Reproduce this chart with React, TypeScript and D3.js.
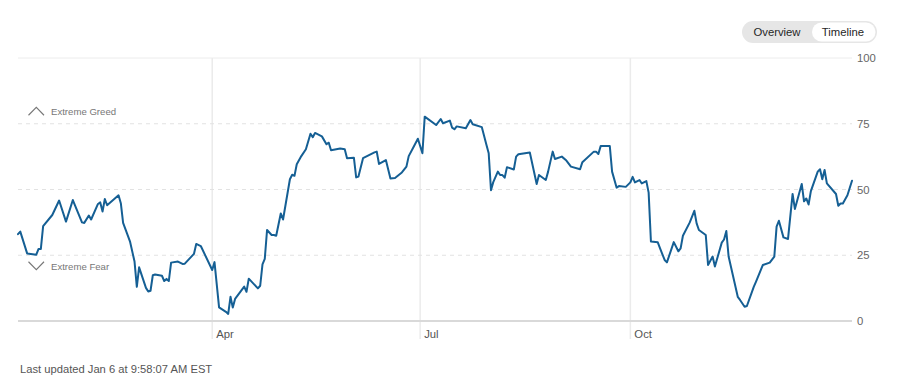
import React from "react";
import * as d3 from "d3";

const dates: string[] = [
  "2022-01-06","2022-01-07","2022-01-10","2022-01-14","2022-01-15","2022-01-16","2022-01-17","2022-01-21","2022-01-24","2022-01-27",
  "2022-01-30","2022-02-03","2022-02-04","2022-02-06","2022-02-07","2022-02-10","2022-02-11","2022-02-12","2022-02-13","2022-02-14",
  "2022-02-19","2022-02-20","2022-02-21","2022-02-24","2022-02-26","2022-02-27","2022-02-28","2022-03-03","2022-03-04","2022-03-05",
  "2022-03-06","2022-03-07","2022-03-10","2022-03-11","2022-03-12","2022-03-13","2022-03-14","2022-03-17","2022-03-19","2022-03-20",
  "2022-03-24","2022-03-25","2022-03-27","2022-04-01","2022-04-02","2022-04-04","2022-04-07","2022-04-08","2022-04-09","2022-04-10",
  "2022-04-11","2022-04-15","2022-04-16","2022-04-17","2022-04-21","2022-04-22","2022-04-23","2022-04-24","2022-04-25","2022-04-27",
  "2022-04-28","2022-04-29","2022-05-01","2022-05-02","2022-05-05","2022-05-06","2022-05-07","2022-05-08","2022-05-10","2022-05-12",
  "2022-05-14","2022-05-15","2022-05-16","2022-05-19","2022-05-21","2022-05-22","2022-05-23","2022-05-27","2022-05-29","2022-05-30",
  "2022-06-02","2022-06-03","2022-06-04","2022-06-06","2022-06-11","2022-06-12","2022-06-13","2022-06-16","2022-06-18","2022-06-20",
  "2022-06-23","2022-06-25","2022-06-26","2022-06-28","2022-06-30","2022-07-02","2022-07-03","2022-07-08","2022-07-10","2022-07-11",
  "2022-07-14","2022-07-15","2022-07-16","2022-07-17","2022-07-21","2022-07-23","2022-07-24","2022-07-28","2022-07-30","2022-07-31",
  "2022-08-01","2022-08-02","2022-08-04","2022-08-05","2022-08-06","2022-08-07","2022-08-08","2022-08-11","2022-08-12","2022-08-13",
  "2022-08-18","2022-08-21","2022-08-22","2022-08-25","2022-08-26","2022-08-28","2022-08-29","2022-09-01","2022-09-03","2022-09-05",
  "2022-09-09","2022-09-10","2022-09-15","2022-09-16","2022-09-17","2022-09-18","2022-09-22","2022-09-23","2022-09-25","2022-09-26",
  "2022-09-29","2022-10-01","2022-10-02","2022-10-03","2022-10-05","2022-10-06","2022-10-08","2022-10-09","2022-10-10","2022-10-13",
  "2022-10-14","2022-10-16","2022-10-17","2022-10-20","2022-10-22","2022-10-23","2022-10-24","2022-10-27","2022-10-29","2022-10-30",
  "2022-10-31","2022-11-03","2022-11-04","2022-11-06","2022-11-07","2022-11-10","2022-11-11","2022-11-12","2022-11-13","2022-11-17",
  "2022-11-18","2022-11-20","2022-11-21","2022-11-24","2022-11-25","2022-11-28","2022-12-01","2022-12-03","2022-12-04","2022-12-05",
  "2022-12-07","2022-12-09","2022-12-11","2022-12-12","2022-12-15","2022-12-16","2022-12-17","2022-12-18","2022-12-19","2022-12-22",
  "2022-12-23","2022-12-24","2022-12-25","2022-12-26","2022-12-30","2022-12-31","2023-01-01","2023-01-02","2023-01-04","2023-01-06",
];

const values: number[] = [
  33, 34, 25.7, 25.2, 27.4, 27.4, 36.1, 40.3, 45.8, 37.8,
  46.0, 37.5, 37.3, 40.1, 38.6, 44.5, 45.1, 41.6, 46.4, 44.0,
  47.8, 44.8, 37.3, 30.3, 22.6, 13.0, 20.4, 12.6, 11.2, 11.5,
  17.4, 17.7, 17.2, 15.2, 16.0, 15.2, 22.2, 22.6, 21.7, 21.8,
  25.5, 29.3, 28.5, 19.4, 22.4, 5.2, 3.5, 2.7, 9.2, 5.1,
  8.4, 13.1, 11.1, 16.1, 12.4, 13.4, 21.5, 23.6, 34.6, 32.7,
  32.7, 32.4, 40.9, 38.6, 53.9, 55.6, 55.2, 59.6, 62.7, 65.3,
  71.2, 69.9, 71.5, 70.2, 67.2, 67.8, 64.9, 65.6, 65.3, 61.9,
  62.1, 54.6, 54.9, 61.9, 64.1, 64.4, 59.7, 61.2, 54.2, 54.4,
  56.5, 58.7, 62.7, 66.0, 69.3, 63.8, 77.7, 74.5, 76.8, 75.2,
  76.2, 73.5, 72.9, 74.0, 73.3, 76.4, 74.8, 73.7, 67.0, 63.8,
  49.7, 52.8, 56.8, 55.5, 55.5, 54.5, 58.5, 57.6, 62.5, 63.4,
  64.1, 52.1, 55.5, 53.6, 56.8, 64.4, 61.6, 62.5, 61.0, 58.7,
  57.7, 60.4, 64.4, 64.4, 63.5, 66.5, 66.5, 56.8, 50.7, 51.3,
  51.0, 52.7, 54.8, 52.7, 53.6, 52.3, 53.2, 48.8, 30.2, 29.9,
  27.6, 23.2, 22.3, 30.0, 26.5, 27.6, 32.4, 37.5, 41.9, 37.1,
  34.6, 32.7, 21.3, 24.5, 20.7, 29.8, 31.0, 34.2, 24.5, 9.2,
  8.0, 5.4, 5.7, 13.0, 15.0, 21.3, 22.2, 24.5, 35.9, 38.1,
  31.8, 31.2, 48.3, 42.6, 52.1, 45.5, 46.6, 44.3, 49.4, 56.8,
  57.7, 53.9, 57.4, 52.3, 48.3, 43.8, 44.7, 44.7, 47.8, 53.3,
];

const domainDates: string[] = ["2022-01-06", "2023-01-06"];
const yTicks: number[] = [0, 25, 50, 75, 100];
const monthTicks: string[] = ["2022-04-01", "2022-07-01", "2022-10-01"];
const monthLabels: string[] = ["Apr", "Jul", "Oct"];
const zoneLabels: string[] = ["Extreme Greed", "Extreme Fear"];
const zoneLevels: number[] = [75, 25];
const toggleLabels: string[] = ["Overview", "Timeline"];
const updatedText = "Last updated Jan 6 at 9:58:07 AM EST";

const FONT = "'Liberation Sans', Arial, Helvetica, sans-serif";

export default function App() {
  const W = 902;
  const H = 382;
  const parse = d3.utcParse("%Y-%m-%d");
  const x = d3
    .scaleUtc()
    .domain([parse(domainDates[0])!, parse(domainDates[1])!])
    .range([18, 852]);
  const y = d3.scaleLinear().domain([0, 100]).range([321, 58]);

  const data = dates.map((d, i) => ({ date: parse(d)!, value: values[i] }));
  const line = d3
    .line<{ date: Date; value: number }>()
    .x((d) => x(d.date))
    .y((d) => y(d.value));

  const [x0, x1] = x.range();

  return (
    <svg
      width={W}
      height={H}
      style={{ position: "absolute", left: 0, top: 0, background: "#fff" }}
      fontFamily={FONT}
    >
      {/* vertical month gridlines */}
      {monthTicks.map((m, i) => {
        const xx = x(parse(m)!);
        return (
          <g key={m}>
            <line x1={xx} x2={xx} y1={y(100)} y2={339} stroke="#ebebeb" strokeWidth={1.5} />
            <text x={xx + 4} y={338} fontSize={11.3} fill="#555">
              {monthLabels[i]}
            </text>
          </g>
        );
      })}

      {/* horizontal gridlines */}
      {yTicks.map((t) => {
        const yy = y(t);
        const solid = t === 0 || t === 100;
        return (
          <g key={t}>
            <line
              x1={x0}
              x2={x1}
              y1={yy}
              y2={yy}
              stroke={t === 0 ? "#d9d9d9" : solid ? "#ececec" : "#e2e2e2"}
              strokeWidth={t === 0 ? 1.8 : 1}
              strokeDasharray={solid ? undefined : "4 4"}
            />
            <text x={857} y={yy + 4} fontSize={11.3} fill="#666">
              {t}
            </text>
          </g>
        );
      })}

      {/* extreme zone labels */}
      {zoneLabels.map((lab, i) => {
        const up = i === 0;
        const base = y(zoneLevels[i]);
        const cy = up ? base - 12.5 : base + 10.5;
        const path = up
          ? `M${28.5},${cy + 4} L${36.3},${cy - 4} L${44},${cy + 4}`
          : `M${28.5},${cy - 4} L${36.3},${cy + 4} L${44},${cy - 4}`;
        return (
          <g key={lab}>
            <path d={path} fill="none" stroke="#777" strokeWidth={1.1} />
            <text x={51} y={cy + 4} fontSize={9.6} fill="#777">
              {lab}
            </text>
          </g>
        );
      })}

      {/* data line */}
      <path
        d={line(data) || ""}
        fill="none"
        stroke="#155f94"
        strokeWidth={2}
        strokeLinejoin="round"
        strokeLinecap="round"
      />

      {/* toggle */}
      <g>
        <rect x={742} y={21} width={135} height={22} rx={11} fill="#e6e6e6" />
        <rect x={812} y={22.5} width={63.5} height={19} rx={9.5} fill="#fff" />
        <text x={777} y={36} fontSize={11.3} textAnchor="middle" fill="#262626">
          {toggleLabels[0]}
        </text>
        <text x={843} y={36} fontSize={11.3} textAnchor="middle" fill="#262626">
          {toggleLabels[1]}
        </text>
      </g>

      {/* footer */}
      <text x={20} y={373} fontSize={11.2} fill="#555">
        {updatedText}
      </text>
    </svg>
  );
}
